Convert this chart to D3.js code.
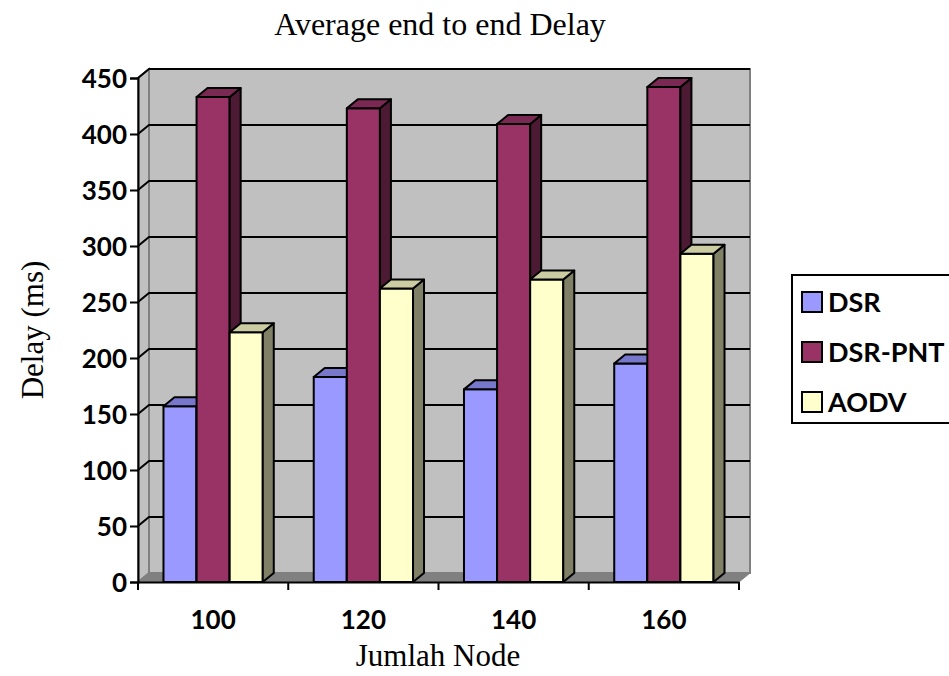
<!DOCTYPE html>
<html><head><meta charset="utf-8">
<script src="https://cdn.jsdelivr.net/npm/d3@7"></script>
<style>body{margin:0;background:#fff}svg{display:block}</style>
</head><body>
<svg id="c" width="949" height="676"></svg>
<script>
const categories = ["100","120","140","160"];
const seriesNames = ["DSR","DSR-PNT","AODV"];
const dsr = [157, 183, 172, 195];
const dsrPnt = [433, 423, 409, 442];
const aodv = [223, 262, 270, 293];
const yTicks = [0,50,100,150,200,250,300,350,400,450];
const seriesValues = [dsr, dsrPnt, aodv];
const colors = {front:["#9999FF","#993366","#FFFFCC"], top:["#7777CC","#7A2952","#CCCCA3"], side:["#6B6BB3","#4D1A33","#808066"]};

const svg = d3.select("#c");
const X0 = 138, X1 = 739, Y0 = 582, Y1 = 78, DX = 11, DY = 9;
const x = d3.scaleBand().domain(categories).range([X0, X1]);
const xs = d3.scaleBand().domain(seriesNames).range([0, x.bandwidth()]).paddingOuter(0.77);
const y = d3.scaleLinear().domain([0, 450]).range([Y0, Y1]);
const bold = "Lato, 'Open Sans', sans-serif";
const serif = "'Liberation Serif', 'Times New Roman', serif";

// back wall
svg.append("rect").attr("x", X0+DX).attr("y", Y1-DY).attr("width", X1-X0).attr("height", Y0-Y1)
  .attr("fill","#C0C0C0").attr("stroke","#808080").attr("stroke-width",2);
// left wall
svg.append("path").attr("d", `M${X0},${Y0}L${X0},${Y1}L${X0+DX},${Y1-DY}L${X0+DX},${Y0-DY}Z`)
  .attr("fill","#C0C0C0").attr("stroke","#808080").attr("stroke-width",2);
// floor
svg.append("path").attr("d", `M${X0},${Y0}L${X0+DX},${Y0-DY}L${X1+DX},${Y0-DY}L${X1},${Y0}Z`)
  .attr("fill","#808080").attr("stroke","#808080").attr("stroke-width",1);
// gridlines
const gl = svg.append("g").attr("stroke","#000").attr("stroke-width",2).attr("fill","none");
yTicks.filter(t=>t>0).forEach(t=>{
  gl.append("path").attr("d", `M${X0},${y(t)}L${X0+DX},${y(t)-DY}L${X1+DX},${y(t)-DY}`);
});

// bars
categories.forEach((c, ci)=>{
  seriesNames.forEach((s, si)=>{
    const v = seriesValues[si][ci];
    const bx = x(c) + xs(s), bw = xs.bandwidth(), by = y(v);
    const g = svg.append("g").attr("stroke","#000").attr("stroke-width",2).attr("stroke-linejoin","round");
    g.append("rect").attr("x",bx).attr("y",by).attr("width",bw).attr("height",Y0-by).attr("fill",colors.front[si]);
    g.append("path").attr("d",`M${bx+bw},${Y0}L${bx+bw},${by}L${bx+bw+DX},${by-DY}L${bx+bw+DX},${Y0-DY}Z`).attr("fill",colors.side[si]);
    g.append("path").attr("d",`M${bx},${by}L${bx+DX},${by-DY}L${bx+bw+DX},${by-DY}L${bx+bw},${by}Z`).attr("fill",colors.top[si]);
  });
});

// y axis
const ya = svg.append("g").attr("transform",`translate(${X0},0)`)
  .call(d3.axisLeft(y).tickValues(yTicks).tickSize(8).tickPadding(3));
ya.select(".domain").attr("stroke","#000").attr("stroke-width",2);
ya.selectAll(".tick line").attr("stroke","#000").attr("stroke-width",2);
ya.selectAll(".tick text").attr("font-family",bold).attr("font-weight","bold").attr("font-size",26).attr("fill","#000").attr("dy","0.36em");

// x axis
const xa = svg.append("g").attr("transform",`translate(0,${Y0})`)
  .call(d3.axisBottom(x).tickSize(0).tickSizeOuter(0));
xa.select(".domain").attr("stroke","#000").attr("stroke-width",2);
xa.selectAll(".tick text").attr("font-family",bold).attr("font-weight","bold").attr("font-size",26).attr("fill","#000")
  .attr("y",47).attr("dy",0);
const bounds = categories.map(c=>x(c)).concat([X1]);
xa.selectAll(".bt").data(bounds).join("line").attr("class","bt")
  .attr("x1",d=>d).attr("x2",d=>d).attr("y1",0).attr("y2",8).attr("stroke","#000").attr("stroke-width",2);

// titles
svg.append("text").attr("x",440).attr("y",35).attr("text-anchor","middle").attr("font-family",serif).attr("font-size",32).text("Average end to end Delay");
svg.append("text").attr("x",438).attr("y",666).attr("text-anchor","middle").attr("font-family",serif).attr("font-size",31).text("Jumlah Node");
svg.append("text").attr("transform","translate(43,330) rotate(-90)").attr("text-anchor","middle").attr("font-family",serif).attr("font-size",31).text("Delay (ms)");

// legend
const lg = svg.append("g");
lg.append("rect").attr("x",792).attr("y",275).attr("width",170).attr("height",148).attr("fill","#fff").attr("stroke","#000").attr("stroke-width",2);
seriesNames.forEach((s,i)=>{
  const ty = 292 + i*50;
  lg.append("rect").attr("x",802).attr("y",ty).attr("width",20).attr("height",20).attr("fill",colors.front[i]).attr("stroke","#000").attr("stroke-width",2);
  lg.append("text").attr("x",828).attr("y",ty+20).attr("font-family",bold).attr("font-weight","bold").attr("font-size",27).text(s);
});
</script>
</body></html>
